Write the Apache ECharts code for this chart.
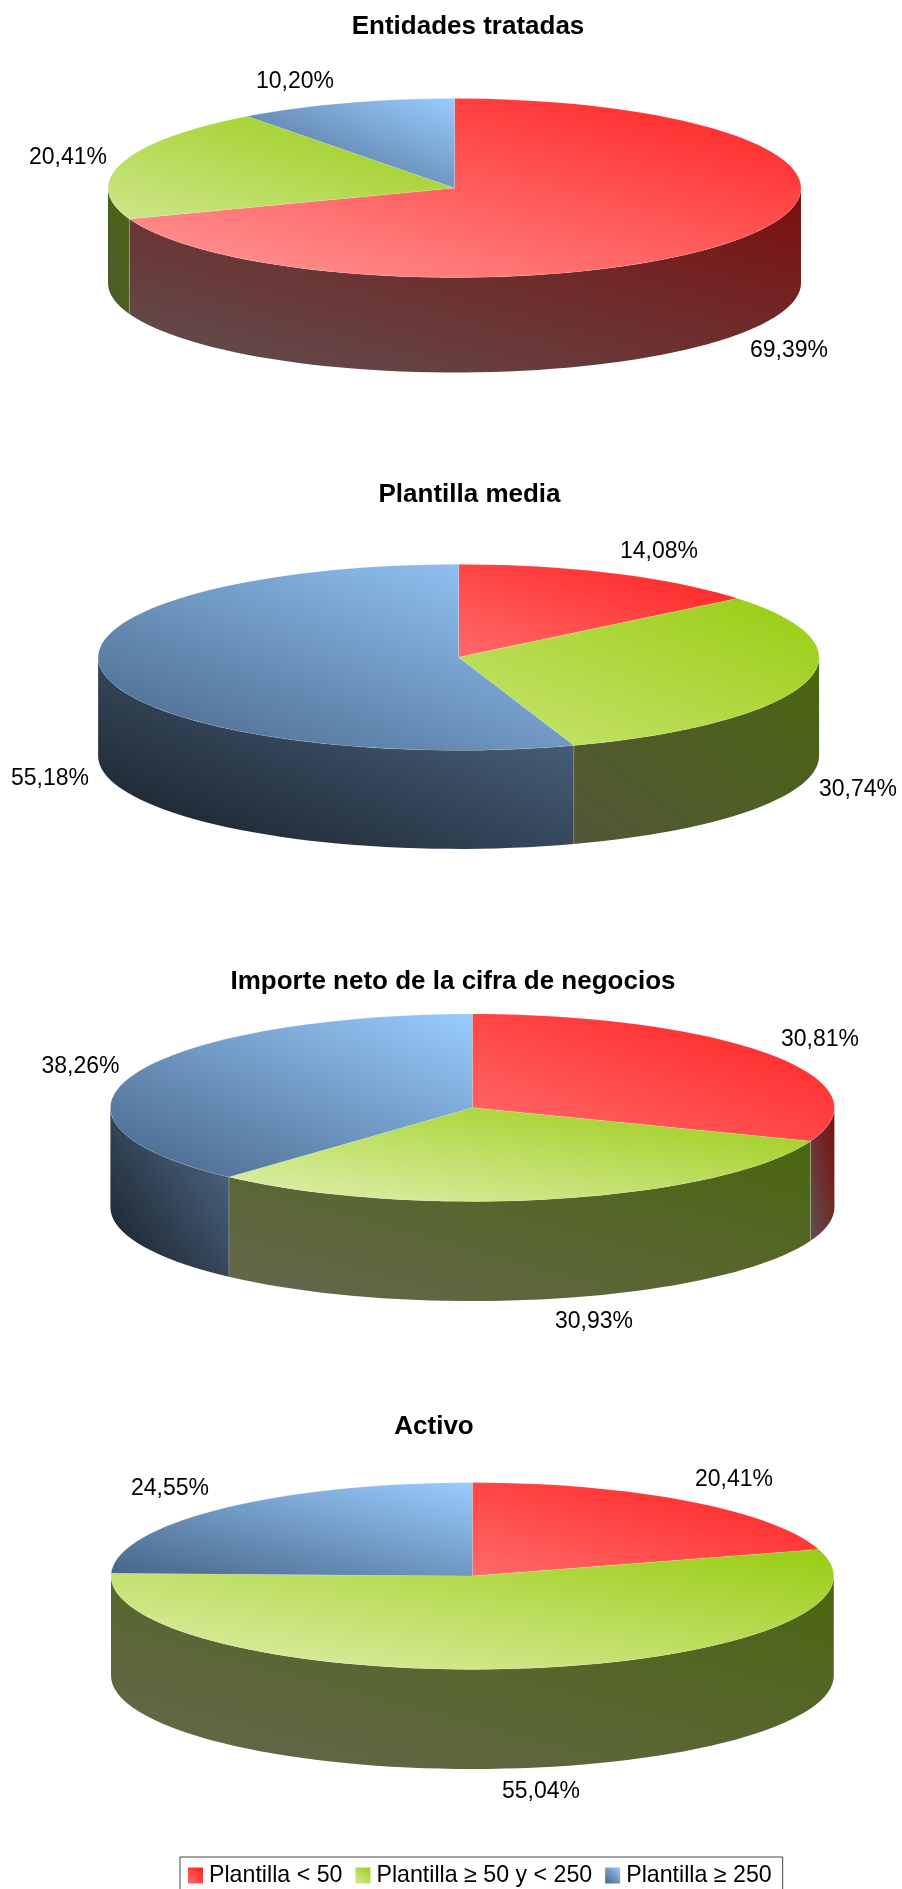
<!DOCTYPE html>
<html>
<head>
	<meta charset="utf-8">
	<title>Plantilla</title>
	<script src="https://cdn.jsdelivr.net/npm/echarts@6/dist/echarts.min.js"></script>
	<style>html,body{margin:0;padding:0;background:#fff}</style>
</head>
<body>
<div id="main" style="width:902px;height:1889px;"></div>
<script type="text/javascript">
var pieTitles = ['Entidades tratadas', 'Plantilla media', 'Importe neto de la cifra de negocios', 'Activo'];
var categories = ['Plantilla < 50', 'Plantilla ≥ 50 y < 250', 'Plantilla ≥ 250'];
var under50 = [69.39, 14.08, 30.81, 20.41];
var from50to250 = [20.41, 30.74, 30.93, 55.04];
var over250 = [10.20, 55.18, 38.26, 24.55];
var seriesValues = [under50, from50to250, over250];

// pie geometry, px: centre, radii, wall height
var pies = [
	{cx: 454.5, cy: 188, rx: 346.5, ry: 89.5, depth: 95},
	{cx: 458.6, cy: 657.3, rx: 360.5, ry: 93, depth: 98.6},
	{cx: 472.4, cy: 1107.7, rx: 362, ry: 93.7, depth: 99.7},
	{cx: 472.4, cy: 1576, rx: 361.4, ry: 93.4, depth: 99.6}
];
var titlePos = [[463, 24], [464.5, 492], [448, 979], [429, 1424]];
// label centres by [pie][category]
var labelPos = [
	[[789, 351], [68, 158], [295, 82]],
	[[659, 552], [858, 790], [50, 779]],
	[[820, 1040], [594, 1322], [80.5, 1067]],
	[[734, 1480], [541, 1792], [170, 1489]]
];
// gradient colours, top right -> bottom left
var topStart = ['#ff2020', '#99cc11', '#99ccff'];
var wallStart = ['#7c0e0e', '#4a660f', '#55708f'];
// end colour differs from pie to pie, [pie][category]
var topEnd = [
	['#ff9a9a', '#cde68c', '#466486'],
	['#ff6a6a', '#c8e472', '#466486'],
	['#ff6c6c', '#e0f0b0', '#466486'],
	['#ff6a6a', '#e0f0b0', '#466486']
];
var wallEnd = [
	['#5f5050', '#4c5a30', '#161e26'],
	['#5f5050', '#525638', '#161e26'],
	['#5f5050', '#66664f', '#161e26'],
	['#5f5050', '#66664f', '#161e26']
];
var legendEnd = ['#ff6a6a', '#d8eba4', '#466486'];

var FONT = '"Liberation Sans", Arial, sans-serif';
var SAMPLES = 140;

function toAngle(pct) {
	return echarts.number.linearMap(pct, [0, 100], [-Math.PI / 2, Math.PI * 1.5]);
}

function arc(p, a, b, dy) {
	var pts = [];
	var n = Math.max(2, Math.ceil(SAMPLES * (b - a) / (2 * Math.PI)));
	for (var i = 0; i <= n; i++) {
		var t = a + (b - a) * i / n;
		pts.push([p.cx + p.rx * Math.cos(t), p.cy + dy + p.ry * Math.sin(t)]);
	}
	return pts;
}

// colour lines run parallel to the box diagonal, top left to bottom right
function grad(pts, from, to) {
	var xs = pts.map(function (d) { return d[0]; });
	var ys = pts.map(function (d) { return d[1]; });
	var x0 = Math.min.apply(null, xs), x1 = Math.max.apply(null, xs);
	var y0 = Math.min.apply(null, ys), y1 = Math.max.apply(null, ys);
	var w = x1 - x0, h = y1 - y0;
	var k = 2 * w * h / (w * w + h * h);
	return new echarts.graphic.LinearGradient(
		x1, y0, x1 - h * k, y0 + w * k,
		[{offset: 0, color: from}, {offset: 1, color: to}],
		true
	);
}

function makeRender(catIdx) {
	return function (params, api) {
		var i = api.value(0);
		var start = api.value(1);
		var val = api.value(2);
		var p = pies[i];
		var a = toAngle(start);
		var b = toAngle(start + val);
		var kids = [];

		// wall only on the front half of the ellipse
		var wa = Math.max(a, 0), wb = Math.min(b, Math.PI);
		if (wb > wa) {
			var wall = arc(p, wa, wb, 0).concat(arc(p, wa, wb, p.depth).reverse());
			kids.push({
				type: 'polygon',
				shape: {points: wall},
				style: {fill: grad(wall, wallStart[catIdx], wallEnd[i][catIdx])}
			});
			if (a >= 0 && a <= Math.PI) {
				var ex = p.cx + p.rx * Math.cos(a), ey = p.cy + p.ry * Math.sin(a);
				kids.push({
					type: 'line',
					shape: {x1: ex, y1: ey, x2: ex, y2: ey + p.depth},
					style: {stroke: 'rgba(255,255,255,0.4)', lineWidth: 0.6}
				});
			}
		}

		var top = [[p.cx, p.cy]].concat(arc(p, a, b, 0));
		kids.push({
			type: 'polygon',
			shape: {points: top},
			style: {fill: grad(top, topStart[catIdx], topEnd[i][catIdx]), stroke: 'rgba(255,255,255,0.25)', lineWidth: 0.5}
		});

		kids.push({
			type: 'text',
			style: {
				x: labelPos[i][catIdx][0],
				y: labelPos[i][catIdx][1],
				text: val.toFixed(2).replace('.', ',') + '%',
				font: '23px ' + FONT,
				fill: '#000',
				align: 'center',
				verticalAlign: 'middle'
			}
		});
		return {type: 'group', children: kids};
	};
}

var series = categories.map(function (name, c) {
	return {
		name: name,
		type: 'custom',
		coordinateSystem: 'none',
		silent: true,
		animation: false,
		renderItem: makeRender(c),
		data: seriesValues[c].map(function (v, i) {
			var start = 0;
			for (var k = 0; k < c; k++) start += seriesValues[k][i];
			return [i, start, v];
		})
	};
});

var chart = echarts.init(document.getElementById('main'));
chart.setOption({
	backgroundColor: '#fff',
	animation: false,
	title: pieTitles.map(function (t, i) {
		return {
			text: t,
			left: titlePos[i][0],
			top: titlePos[i][1] - 15,
			textAlign: 'center',
			textStyle: {fontFamily: FONT, fontSize: 26, fontWeight: 'bold', color: '#000'}
		};
	}),
	legend: {
		left: 180,
		top: 1857,
		padding: [7, 11, 20, 8],
		itemGap: 13,
		itemWidth: 15,
		itemHeight: 16,
		borderColor: '#444',
		borderWidth: 1,
		selectedMode: false,
		textStyle: {fontFamily: FONT, fontSize: 23.2, color: '#000', padding: [0, 0, 0, 1]},
		data: categories.map(function (name, c) {
			return {
				name: name,
				icon: 'rect',
				itemStyle: {color: new echarts.graphic.LinearGradient(1, 0, 0, 1, [
					{offset: 0, color: topStart[c]},
					{offset: 1, color: legendEnd[c]}
				])}
			};
		})
	},
	series: series
});
</script>
</body>
</html>
